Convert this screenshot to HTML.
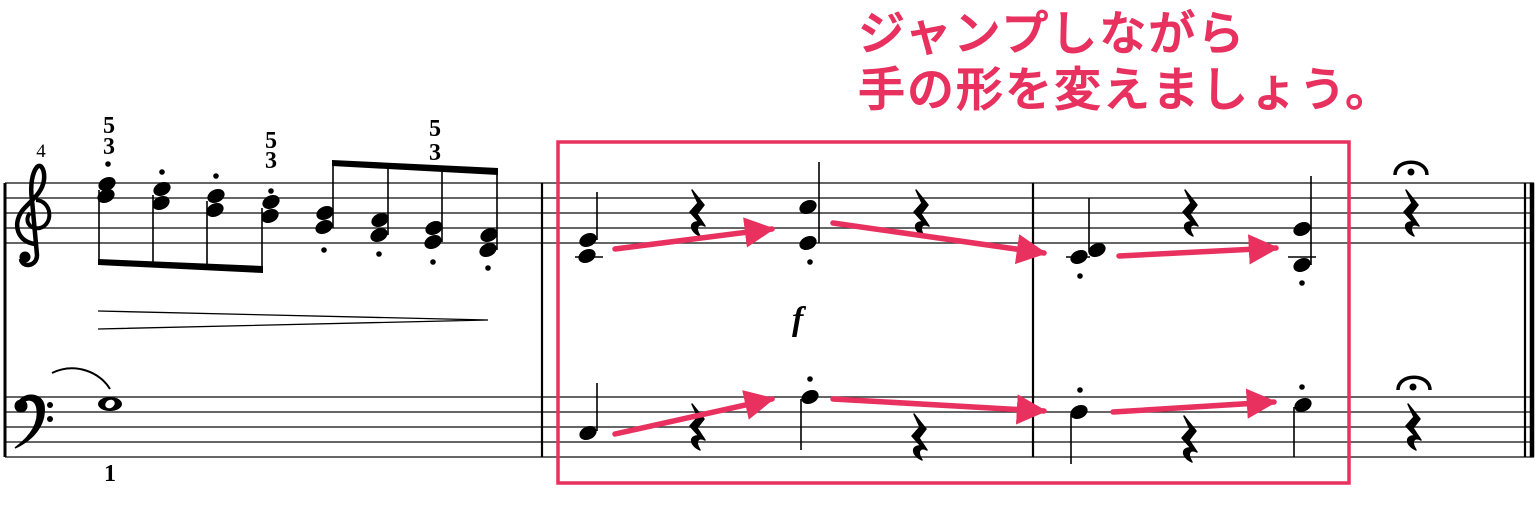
<!DOCTYPE html>
<html><head><meta charset="utf-8"><style>
html,body{margin:0;padding:0;background:#fff;width:1536px;height:519px;overflow:hidden}
.t{position:absolute;left:858px;font-family:"Liberation Sans","Noto Sans CJK JP",sans-serif;font-size:47px;font-weight:500;color:#e8315f;letter-spacing:2px;white-space:nowrap;line-height:1;-webkit-text-stroke:1px #e8315f}
</style></head><body>
<div class="t" style="top:10px">ジャンプしながら</div>
<div class="t" style="top:66px">手の形を変えましょう。</div>
<svg width="1536" height="519" style="position:absolute;left:0;top:0" xmlns="http://www.w3.org/2000/svg">
<defs>
<path id="rest" d="M0,0 L12,15 L5,24 L13,36 C7,33 2,36 8,46 C-3,41 -3,31 7,32 L-2,22 L6,13 Z" fill="#000" stroke="#000" stroke-width="1.5" stroke-linejoin="round"/>
<ellipse id="h" rx="9" ry="6.5" transform="rotate(-25)" fill="#000"/>
<marker id="ar" viewBox="0 0 10 10" refX="9" refY="5" markerWidth="5.5" markerHeight="5.5" orient="auto" markerUnits="strokeWidth"><path d="M0,0 L10,5 L0,10 Z" fill="#e8315f"/></marker>
</defs>
<g stroke="#333" stroke-width="1.6">
<line x1="5" y1="183" x2="1534" y2="183"/><line x1="5" y1="198" x2="1534" y2="198"/><line x1="5" y1="213" x2="1534" y2="213"/><line x1="5" y1="228" x2="1534" y2="228"/><line x1="5" y1="243" x2="1534" y2="243"/>
<line x1="5" y1="397" x2="1534" y2="397"/><line x1="5" y1="412" x2="1534" y2="412"/><line x1="5" y1="427" x2="1534" y2="427"/><line x1="5" y1="442" x2="1534" y2="442"/><line x1="5" y1="457" x2="1534" y2="457"/>
</g>
<g stroke="#000" stroke-width="2.2">
<line x1="5" y1="183" x2="5" y2="457" stroke-width="3"/>
<line x1="542" y1="183" x2="542" y2="457"/>
<line x1="1033" y1="183" x2="1033" y2="457"/>
<line x1="1525" y1="183" x2="1525" y2="457"/>
<line x1="1532" y1="183" x2="1532" y2="457" stroke-width="4.5"/>
</g>
<path d="M35,244 C18,242 12,225 22,211 C30,201 42,194 44,180 C45,170 41,163 37,167 C32,173 30,186 32,200 L37,255 C37,267 22,268 21,259" fill="none" stroke="#000" stroke-width="4.5"/>
<path d="M36,200 C52,201 54,224 40,228 C29,230 24,220 30,213" fill="none" stroke="#000" stroke-width="4"/>
<circle cx="25" cy="257" r="5.5"/>
<path d="M18,404 C22,392 42,392 44,406 C46,426 32,440 15,448 C34,434 39,420 37,408 C35,398 26,398 22,404 Z" fill="#000" stroke="#000" stroke-width="1.5"/>
<circle cx="21" cy="406" r="6.5"/>
<circle cx="50" cy="405" r="3"/><circle cx="50" cy="419" r="3"/>
<g font-family="Liberation Serif,serif" font-weight="bold" font-size="24" text-anchor="middle">
<text x="41" y="157" font-weight="normal" font-size="19">4</text>
<text x="109" y="133">5</text><text x="109" y="154">3</text>
<text x="271" y="148">5</text><text x="271" y="168">3</text>
<text x="435" y="136">5</text><text x="435" y="160">3</text>
<text x="110" y="481">1</text>
</g>
<g>
<use href="#h" x="107" y="184"/><use href="#h" x="106" y="196"/>
<use href="#h" x="162" y="189"/><use href="#h" x="161" y="203"/>
<use href="#h" x="216" y="196"/><use href="#h" x="215" y="210"/>
<use href="#h" x="271" y="202"/><use href="#h" x="270" y="216"/>
<use href="#h" x="325" y="213"/><use href="#h" x="324" y="227"/>
<use href="#h" x="380" y="220"/><use href="#h" x="379" y="235"/>
<use href="#h" x="434" y="228"/><use href="#h" x="433" y="242"/>
<use href="#h" x="489" y="235"/><use href="#h" x="488" y="250"/>
</g>
<g stroke="#000" stroke-width="1.6">
<line x1="99" y1="190" x2="99" y2="262"/><line x1="153" y1="195" x2="153" y2="264"/><line x1="207" y1="201" x2="207" y2="267"/><line x1="262" y1="208" x2="262" y2="269"/>
<line x1="333" y1="163" x2="333" y2="228"/><line x1="388" y1="166" x2="388" y2="235"/><line x1="442" y1="169" x2="442" y2="242"/><line x1="497" y1="172" x2="497" y2="250"/>
</g>
<path d="M98,259 L263,266 L263,273 L98,265 Z" fill="#000"/>
<path d="M332,160 L498,168 L498,175 L332,166 Z" fill="#000"/>
<g fill="#000">
<circle cx="108" cy="164" r="2.8"/><circle cx="162" cy="172" r="2.8"/><circle cx="216" cy="176" r="2.8"/><circle cx="271" cy="191" r="2.8"/>
<circle cx="324" cy="250" r="2.8"/><circle cx="379" cy="254" r="2.8"/><circle cx="433" cy="262" r="2.8"/><circle cx="488" cy="268" r="2.8"/>
</g>
<path d="M98,311 L488,320 L98,329" fill="none" stroke="#000" stroke-width="1.3"/>
<path d="M52,373 C75,362 100,372 110,389" fill="none" stroke="#000" stroke-width="2"/>
<ellipse cx="110" cy="404" rx="12" ry="7" fill="#000"/><ellipse cx="110" cy="404" rx="5" ry="4" transform="rotate(-30 110 404)" fill="#fff"/>
<use href="#h" x="588" y="240"/><use href="#h" x="587" y="256"/>
<line x1="575" y1="257" x2="603" y2="257" stroke="#000" stroke-width="1.6"/>
<line x1="597" y1="192" x2="597" y2="240" stroke="#000" stroke-width="1.6"/>
<use href="#rest" x="692" y="190"/>
<use href="#h" x="808" y="207"/><use href="#h" x="808" y="243"/>
<line x1="819" y1="162" x2="819" y2="243" stroke="#000" stroke-width="1.6"/>
<circle cx="810" cy="262" r="2.8"/>
<use href="#rest" x="916" y="190"/>
<text x="792" y="330" font-family="Liberation Serif,serif" font-style="italic" font-weight="bold" font-size="34">f</text>
<use href="#h" x="588" y="433"/><line x1="597" y1="383" x2="597" y2="431" stroke="#000" stroke-width="1.6"/>
<use href="#rest" x="692" y="404"/>
<use href="#h" x="810" y="397"/><line x1="801" y1="399" x2="801" y2="450" stroke="#000" stroke-width="1.6"/>
<circle cx="810" cy="379" r="2.8"/>
<use href="#rest" x="914" y="414"/>
<use href="#h" x="1079" y="257"/><use href="#h" x="1097" y="250"/>
<line x1="1066" y1="257" x2="1090" y2="257" stroke="#000" stroke-width="1.6"/>
<line x1="1089" y1="198" x2="1089" y2="252" stroke="#000" stroke-width="1.6"/>
<circle cx="1080" cy="276" r="2.8"/>
<use href="#rest" x="1185" y="190"/>
<use href="#h" x="1302" y="229"/><use href="#h" x="1302" y="265"/>
<line x1="1288" y1="257" x2="1316" y2="257" stroke="#000" stroke-width="1.6"/>
<line x1="1311" y1="176" x2="1311" y2="265" stroke="#000" stroke-width="1.6"/>
<circle cx="1302" cy="283" r="2.8"/>
<use href="#h" x="1079" y="412"/><line x1="1071" y1="414" x2="1071" y2="464" stroke="#000" stroke-width="1.6"/>
<circle cx="1080" cy="390" r="2.8"/>
<use href="#rest" x="1184" y="416"/>
<use href="#h" x="1303" y="405"/><line x1="1294" y1="407" x2="1294" y2="457" stroke="#000" stroke-width="1.6"/>
<circle cx="1302" cy="387" r="2.8"/>
<use href="#rest" x="1406" y="190"/>
<use href="#rest" x="1408" y="404"/>
<path d="M1395,175 C1395,158 1427,158 1427,175" fill="none" stroke="#000" stroke-width="3.5"/>
<circle cx="1411" cy="172" r="3.5"/>
<path d="M1398,390 C1398,373 1430,373 1430,390" fill="none" stroke="#000" stroke-width="3.5"/>
<circle cx="1413" cy="387" r="3.5"/>
<rect x="558" y="142" width="791" height="341" fill="none" stroke="#e8315f" stroke-width="3.5"/>
<g stroke="#e8315f" stroke-width="5.5" stroke-linecap="round" fill="none" marker-end="url(#ar)">
<line x1="615" y1="249" x2="772" y2="229"/>
<line x1="833" y1="223" x2="1044" y2="253"/>
<line x1="1119" y1="256" x2="1276" y2="248"/>
<line x1="615" y1="434" x2="772" y2="399"/>
<line x1="833" y1="399" x2="1044" y2="411"/>
<line x1="1113" y1="412" x2="1274" y2="402"/>
</g>
</svg>
</body></html>
